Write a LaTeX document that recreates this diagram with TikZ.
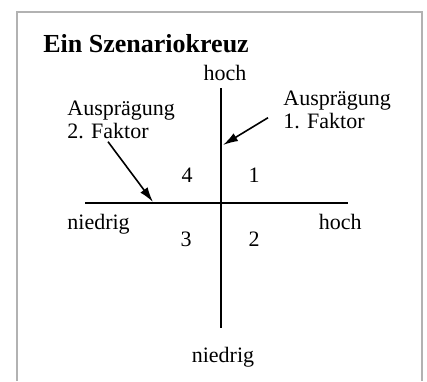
\documentclass[tikz,border=0pt]{standalone}
\usepackage{fontspec}
\setmainfont{Liberation Serif}
\usepackage{tikz}
\usetikzlibrary{arrows.meta, positioning, calc}

\begin{document}
\begin{tikzpicture}[
    x=0.5pt, y=-0.5pt,
    axistext/.style={inner sep=0pt, font=\fontsize{11}{11.5}\selectfont},
    note/.style={inner sep=0pt, align=left, font=\fontsize{11}{11.5}\selectfont},
    quadrant/.style={inner sep=0pt, font=\fontsize{11}{11.5}\selectfont},
    axis/.style={draw, line width=1pt},
    pointer/.style={draw, -{Latex[length=7.5pt, width=4.5pt]}, line width=0.8pt},
    frame/.style={draw=gray!60, line width=1.2pt}
]
    \useasboundingbox (0,0) rectangle (427,381);
    \draw[frame] (17,381) |- (422,12) -- (422,381);

    \node[anchor=base west, inner sep=0pt, font=\fontsize{13}{14}\selectfont\bfseries] (title) at (43,52) {Ein Szenariokreuz};

    % axes
    \coordinate (ytop) at (221,88);
    \coordinate (ybot) at (221,328);
    \coordinate (xl) at (85,203);
    \coordinate (xr) at (348,203);
    \draw[axis] (xl) -- (xr);
    \draw[axis] (ytop) -- (ybot);

    \node[axistext, anchor=base] (hiY) at (225,80) {hoch};
    \node[axistext, anchor=base] (loY) at (223,362) {niedrig};
    \node[axistext, anchor=base west] (loX) at (67,229) {niedrig};
    \node[axistext, anchor=base east] (hiX) at (362,229) {hoch};

    % quadrants
    \node[quadrant, anchor=base] (q4) at (187,182) {4};
    \node[quadrant, anchor=base] (q1) at (254,182) {1};
    \node[quadrant, anchor=base] (q3) at (186,246) {3};
    \node[quadrant, anchor=base] (q2) at (254,246) {2};

    % factors
    \node[note, anchor=base west] (f1) at (283,128) {Ausprägung\\1. Faktor};
    \node[note, anchor=base west] (f2) at (67,138) {Ausprägung\\2. Faktor};
    \coordinate (t1) at (223,145);
    \coordinate (t2) at (153,202);

    \draw[pointer] ($(f1.south west)+(-15,-11)$) -- (t1);
    \draw[pointer] ($(f2.south west)+(41,3)$) -- (t2);
\end{tikzpicture}
\end{document}
